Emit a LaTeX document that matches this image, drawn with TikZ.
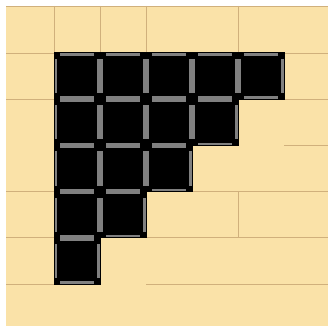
\documentclass[tikz,border=0pt]{standalone}
\definecolor{paper}{RGB}{250,226,168}
\definecolor{seam}{RGB}{208,176,124}
\definecolor{stripgray}{RGB}{128,128,128}
\begin{document}
\begin{tikzpicture}[x=1pt,y=-1pt,
  seamline/.style={draw=seam,line width=0.9pt},
  cellbox/.style={fill=black},
  gstrip/.style={fill=stripgray},
  outline/.style={draw=black,line width=1pt,line join=miter}]
\useasboundingbox (0,0) rectangle (328,326);
\fill[white] (0,0) rectangle (328,326);
\fill[paper] (6,6) rectangle (328,326);
% tile seams
\draw[seamline] (6,6) -- (328,6);
\draw[seamline] (6,53) -- (328,53);
\draw[seamline] (6,99.2) -- (54,99.2);
\draw[seamline] (284,99.2) -- (328,99.2);
\draw[seamline] (284,145.4) -- (328,145.4);
\draw[seamline] (6,191.6) -- (54,191.6);
\draw[seamline] (192,191.6) -- (328,191.6);
\draw[seamline] (6,237.8) -- (54,237.8);
\draw[seamline] (146,237.8) -- (328,237.8);
\draw[seamline] (6,284) -- (54,284);
\draw[seamline] (146,284) -- (328,284);
\draw[seamline] (54,6) -- (54,53);
\draw[seamline] (100,6) -- (100,53);
\draw[seamline] (146,6) -- (146,53);
\draw[seamline] (238,6) -- (238,53);
\draw[seamline] (238,191.6) -- (238,237.8);
% black cells with gray strips
\foreach \j in {0,...,4}{
  \pgfmathtruncatemacro\n{4-\j}
  \foreach \i in {0,...,\n}{
    \pgfmathsetmacro\xa{54+46*\i}
    \pgfmathsetmacro\xb{\xa+46}
    \pgfmathsetmacro\ya{53+46.2*\j}
    \pgfmathsetmacro\yb{\ya+46.2}
    \fill[cellbox] (\xa,\ya) rectangle (\xb,\yb);
    \fill[gstrip] (\xa+6,\ya) rectangle (\xb-6,\ya+2.8);
    \fill[gstrip] (\xa+6,\yb-2.8) rectangle (\xb-6,\yb);
    \fill[gstrip] (\xa,\ya+6) rectangle (\xa+2.8,\yb-6);
    \fill[gstrip] (\xb-2.8,\ya+6) rectangle (\xb,\yb-6);
  }
}
\draw[outline] (54,53) -- (284,53) -- (284,99.2) -- (238,99.2) -- (238,145.4)
  -- (192,145.4) -- (192,191.6) -- (146,191.6) -- (146,237.8) -- (100,237.8)
  -- (100,284) -- (54,284) -- cycle;
\end{tikzpicture}
\end{document}
